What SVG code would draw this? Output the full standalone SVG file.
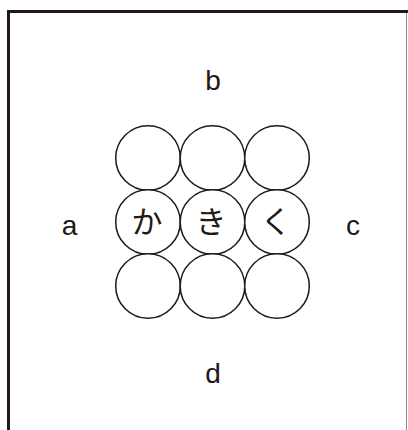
<svg xmlns="http://www.w3.org/2000/svg" width="408" height="430" viewBox="0 0 408 430">
<style>
.c{fill:#fff;stroke:#231815;stroke-width:1.5}
.l{font-family:"Liberation Sans",Arial,sans-serif;font-size:28px;fill:#231815;text-anchor:middle}
.k{font-family:"Noto Sans CJK JP","Noto Sans CJK SC",sans-serif;font-size:31px;fill:#231815;text-anchor:middle}
</style>
<rect width="408" height="430" fill="#fff"/>
<g id="frame">
<path d="M8.5 432 V11.5 H408" fill="none" stroke="#231815" stroke-width="3"/>
<line x1="406.5" y1="13" x2="406.5" y2="430" stroke="#8a8a8a" stroke-width="1"/>
</g>
<g id="labels">
<text class="l" x="213" y="90">b</text>
<text class="l" x="69.5" y="234.5">a</text>
<text class="l" x="353" y="235">c</text>
<text class="l" x="213" y="382.5">d</text>
</g>
<g id="r1c1"><circle class="c" cx="148" cy="158" r="32.3"/></g>
<g id="r1c2"><circle class="c" cx="212.5" cy="158" r="32.3"/></g>
<g id="r1c3"><circle class="c" cx="277" cy="158" r="32.3"/></g>
<g id="r2c1"><circle class="c" cx="148" cy="222" r="32.3"/><text class="k" x="147" y="233">か</text></g>
<g id="r2c2"><circle class="c" cx="212.5" cy="222" r="32.3"/><text class="k" x="211" y="233">き</text></g>
<g id="r2c3"><circle class="c" cx="277" cy="222" r="32.3"/><text class="k" x="276" y="233">く</text></g>
<g id="r3c1"><circle class="c" cx="148" cy="286" r="32.3"/></g>
<g id="r3c2"><circle class="c" cx="212.5" cy="286" r="32.3"/></g>
<g id="r3c3"><circle class="c" cx="277" cy="286" r="32.3"/></g>
<g id="connectors"/>
</svg>
